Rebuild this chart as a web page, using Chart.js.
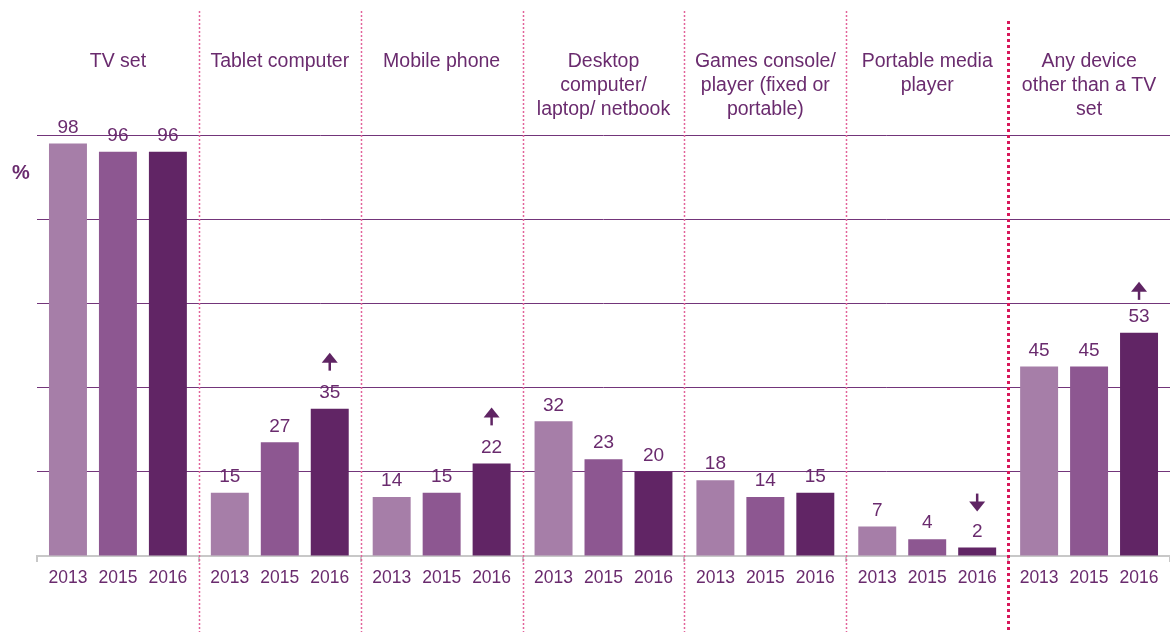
<!DOCTYPE html>
<html>
<head>
<meta charset="utf-8">
<script src="https://cdn.jsdelivr.net/npm/chart.js@4/dist/chart.umd.min.js"></script>
<style>
  html, body { margin: 0; padding: 0; background: #fff; }
  #wrap { width: 1170px; height: 632px; position: relative; }
</style>
</head>
<body>
<div id="wrap"><canvas id="chart"></canvas></div>
<script>
// device groups (header text, split into lines)
const groups = [
    'TV set',
    'Tablet computer',
    'Mobile phone',
    ['Desktop', 'computer/', 'laptop/ netbook'],
    ['Games console/', 'player (fixed or', 'portable)'],
    ['Portable media', 'player'],
    ['Any device', 'other than a TV', 'set']
];
const years = ['2013', '2015', '2016'];
const values2013 = [98, 15, 14, 32, 18, 7, 45];
const values2015 = [96, 27, 15, 23, 14, 4, 45];
const values2016 = [96, 35, 22, 20, 15, 2, 53];
// significance arrows on the 2016 bars
const arrows2016 = [null, 'up', 'up', null, null, 'down', 'up'];
const yTicks = [0, 20, 40, 60, 80, 100];

const purpleText = '#6a2b6e';
const fontFam = '"Liberation Sans", Arial, sans-serif';

function drawArrow(ctx, x, y, dir) {
    // y = tip of the arrow
    ctx.save();
    ctx.fillStyle = '#5f2463';
    ctx.strokeStyle = '#5f2463';
    ctx.lineWidth = 2.5;
    const s = dir === 'up' ? 1 : -1;
    ctx.beginPath();
    ctx.moveTo(x, y);
    ctx.lineTo(x - 8, y + s * 10);
    ctx.lineTo(x + 8, y + s * 10);
    ctx.closePath();
    ctx.fill();
    ctx.beginPath();
    ctx.moveTo(x, y + s * 8);
    ctx.lineTo(x, y + s * 18);
    ctx.stroke();
    ctx.restore();
}

const extras = {
    id: 'extras',
    afterDatasetsDraw(chart) {
        const ctx = chart.ctx;
        const area = chart.chartArea;
        ctx.save();
        ctx.fillStyle = purpleText;
        ctx.textAlign = 'center';
        ctx.textBaseline = 'middle';
        chart.data.datasets.forEach((ds, di) => {
            const meta = chart.getDatasetMeta(di);
            meta.data.forEach((bar, i) => {
                ctx.font = '19px ' + fontFam;
                ctx.fillText(String(ds.data[i]), bar.x, bar.y - 16);
                ctx.font = '17.5px ' + fontFam;
                ctx.fillText(years[di], bar.x, area.bottom + 22);
                if (di === 2 && arrows2016[i]) {
                    if (arrows2016[i] === 'up') {
                        const gap = i === 6 ? 17 : 22;
                        drawArrow(ctx, bar.x, bar.y - 16 - gap - 18, 'up');
                    } else {
                        drawArrow(ctx, bar.x, bar.y - 16 - 20, 'down');
                    }
                }
            });
        });
        // % label
        ctx.font = 'bold 20px ' + fontFam;
        ctx.fillText('%', 21, area.top + 38);
        ctx.restore();
    },
    afterDraw(chart) {
        const ctx = chart.ctx;
        const x = chart.scales.x;
        ctx.save();
        for (let i = 1; i < groups.length; i++) {
            const px = Math.round((x.getPixelForValue(i - 1) + x.getPixelForValue(i)) / 2) + 0.5;
            const last = i === groups.length - 1;
            ctx.beginPath();
            ctx.strokeStyle = last ? '#d8175a' : '#e2649a';
            ctx.lineWidth = last ? 3 : 1.5;
            ctx.setLineDash(last ? [3, 3] : [2, 2]);
            ctx.moveTo(px, last ? 21 : 11);
            ctx.lineTo(px, 632);
            ctx.stroke();
        }
        ctx.restore();
    }
};

new Chart(document.getElementById('chart').getContext('2d'), {
    type: 'bar',
    data: {
        labels: groups,
        datasets: [
            { label: years[0], data: values2013, backgroundColor: '#a67ea8' },
            { label: years[1], data: values2015, backgroundColor: '#8d5791' },
            { label: years[2], data: values2016, backgroundColor: '#612565' }
        ]
    },
    options: {
        responsive: true,
        maintainAspectRatio: false,
        animation: false,
        layout: { padding: { top: 37, bottom: 70, left: 0, right: -2 } },
        plugins: {
            legend: { display: false },
            tooltip: { enabled: false }
        },
        datasets: {
            bar: { categoryPercentage: 0.926, barPercentage: 0.76 }
        },
        scales: {
            x: {
                position: 'bottom',
                grid: {
                    offset: true,
                    drawOnChartArea: false,
                    tickLength: 6,
                    color: '#c8c8c8',
                    lineWidth: 2
                },
                border: { color: '#c8c8c8', width: 2 },
                ticks: { display: false }
            },
            x2: {
                type: 'category',
                labels: groups,
                position: 'top',
                offset: true,
                grid: { display: false, drawTicks: false },
                border: { display: false },
                ticks: {
                    padding: 13,
                    crossAlign: 'far',
                    color: purpleText,
                    font: { family: fontFam, size: 19.5, lineHeight: '24px' },
                    maxRotation: 0,
                    autoSkip: false
                }
            },
            y: {
                min: 0,
                max: 100,
                afterBuildTicks: s => { s.ticks = yTicks.map(v => ({ value: v })); },
                afterFit: s => { s.width = 37; },
                border: { display: false },
                grid: {
                    drawTicks: false,
                    color: c => c.tick && c.tick.value === 0 ? 'rgba(0,0,0,0)' : '#73357a',
                    lineWidth: 1
                },
                ticks: { display: false }
            }
        }
    },
    plugins: [extras]
});
</script>
</body>
</html>
